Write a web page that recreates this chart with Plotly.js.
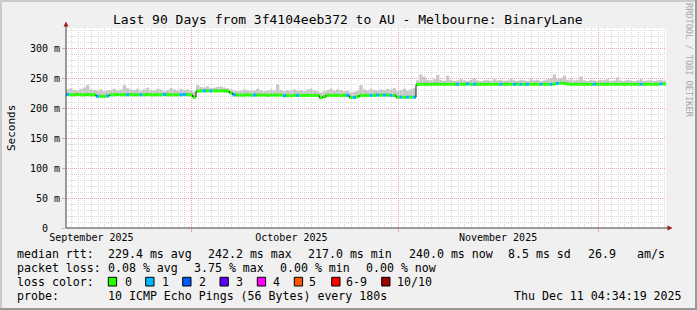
<!DOCTYPE html>
<html><head><meta charset="utf-8">
<script src="https://cdn.plot.ly/plotly-3.0.1.min.js"></script>
<style>html,body{margin:0;padding:0;background:#f0f0f0;overflow:hidden}</style>
</head><body><div id="chart" style="width:697px;height:310px"></div>
<script>
// ---- data (12-hour samples, 90 days) ----
const medianRtt = [
 222.5,222,222,222.5,222,222,222.5,222,222,
 219.5,219.5,219.5,220,
 222,222,222.5,222,222,222,222.5,222,222,222,222,222.5,222,222,222,222,222.5,222,222,222,222,222,222.5,222,222,
 218,
 228,228.5,228.5,228.5,228.5,228.5,228.5,228.5,228.5,228,
 225,222,
 221.5,221.5,221.5,222,221.5,221.5,221.5,221.5,221.5,221,221.5,221.5,221.5,221.5,
 220.5,220.5,220.5,221,
 221,221,221,221,221,221,221,217,219,221,221,221,221,221,221,221,217.5,217.5,219,221,221,221,221,221,221.5,221.5,
 221.5,221.5,221,221,
 218,218,218,218,218,218,
 239,239.5,239.5,239.5,239.5,239.5,239.5,239.5,239.5,239.5,
 239.5,239.5,239.5,239.5,239.5,240,239.5,239.5,239.5,239.5,
 239.5,239.5,239.5,239.5,239.5,239.5,239.5,239.5,239.5,239.5,
 239.5,239.5,239.5,239.5,239.5,239.5,239.5,239.5,239.5,239.5,
 239.5,240,241,241.5,241,240,239.5,239.5,239.5,239.5,
 239.5,239.5,239.5,239.5,239.5,239.5,239.5,239.5,239.5,239.5,
 239.5,239.5,239.5,239.5,239.5,239.5,239.5,239.5,239.5,239.5,
 239.5,239.5,239.5,240,240
];
const smokeTop = [
 231,233,230,229,232,234,238,231,230,
 229,231,228,230,
 230,232,229,231,238,233,231,230,232,229,231,234,230,229,232,231,228,230,233,231,229,232,230,231,229,
 227,
 238,235,234,236,233,234,235,236,234,233,
 231,229,
 228,229,231,230,228,229,232,230,228,229,231,229,239.5,230,
 228,230,229,231,
 229,230,228,231,232,229,228,226,228,230,232,229,231,230,228,229,226,227,229,238,231,229,232,230,229,231,
 230,232,231,233,
 228,230,232,229,231,233,
 246,256,252,247,246,248,255,247,245,254,
 247,245,246,248,246,245,247,249,246,245,
 246,247,245,248,246,247,245,246,248,246,
 245,247,246,245,248,246,247,245,246,248,
 249,256,248,250,254,247,248,246,247,252.5,
 246,245,247,246,245,247,246,248,245,246,
 251,246,245,247,246,245,246,248,245,246,
 247,245,246,247,245
];
const lossCount = [
 1,0,0,0,0,0,0,0,0,1,
 0,0,1,0,0,0,0,0,1,0,
 0,0,1,0,0,0,0,0,0,1,
 0,0,0,0,1,1,0,0,0,0,
 0,1,0,1,0,0,0,0,0,0,
 1,0,0,0,0,0,1,0,0,0,
 0,0,0,0,0,1,0,0,0,1,
 0,0,0,0,0,0,0,0,0,0,
 0,0,0,0,1,0,1,0,0,0,
 0,1,0,1,0,1,0,1,0,0,
 1,0,1,0,1,0,0,0,0,0,
 0,0,0,0,0,0,0,1,0,0,
 1,0,1,0,0,0,0,0,0,0,
 1,0,0,0,1,0,1,0,1,0,
 0,0,1,0,0,1,0,1,0,0,
 0,0,0,0,0,0,0,0,1,0,
 0,0,0,0,0,0,0,0,0,0,
 0,0,1,0,0,0,0,0,1,0
];
const monthStarts = ['2025-10-01','2025-11-01','2025-12-01'];
const monthLabelDates = ['2025-09-16','2025-10-16','2025-11-16'];
const monthLabels = ['September 2025','October 2025','November 2025'];
const yTickVals = [0,50,100,150,200,250,300];
const yTickText = ['0\u00a0\u00a0','50 m','100 m','150 m','200 m','250 m','300 m'];
const lossLegendLabels = ['0','1','2','3','4','5','6-9','10/10'];
const lossColors = ['#26ff00','#00b8ff','#0059ff','#5e00ff','#ff00ff','#ff5500','#ff0000','#a10000'];
const medianStats = ['229.4 ms avg','242.2 ms max','217.0 ms min','240.0 ms now','8.5 ms sd','26.9','am/s'];
const lossStats = ['0.08 % avg','3.75 % max','0.00 % min','0.00 % now'];
const probeText = '10 ICMP Echo Pings (56 Bytes) every 180s';
const stampText = 'Thu Dec 11 04:34:19 2025';
const titleText = 'Last 90 Days from 3f4104eeb372 to AU - Melbourne: BinaryLane';

// ---- layout helpers ----
const DAY = 86400000, STEP = DAY/2;
const startMs = Date.UTC(2025,8,12,4,34,19);
const endMs = startMs + 90*DAY;
const fmt = ms => new Date(ms).toISOString().replace('T',' ').slice(0,19);
const L=66, T=28, W=600, H=200;
const px = x => (x-L)/W;
const py = y => (T+H-y)/H;
const FONT = 'DejaVu Sans Mono';

const times = medianRtt.map((_,i)=>startMs+(i+0.5)*STEP);
const colorFor = n => n<=5 ? lossColors[n] : (n<10 ? lossColors[6] : lossColors[7]);

const smoke = {type:'bar', x:times, base:medianRtt, y:smokeTop.map((v,i)=>v-medianRtt[i]),
  width:STEP, marker:{color:'#c8c8c8', line:{width:0}}, hoverinfo:'skip', showlegend:false};
const band = 5;
const med = {type:'bar', x:times, base:medianRtt.map(v=>v-band/2), y:medianRtt.map(()=>band),
  width:STEP, marker:{color:lossCount.map(colorFor), line:{width:0}}, hoverinfo:'skip', showlegend:false};
const sx=[], sy=[];
for(let i=1;i<medianRtt.length;i++){
  if(Math.abs(medianRtt[i]-medianRtt[i-1])>=2){
    const t=startMs+i*STEP; sx.push(t,t,null); sy.push(medianRtt[i-1],medianRtt[i],null);
  }
}
const steps = {type:'scatter', mode:'lines', x:sx, y:sy, line:{color:'#202020', width:1}, hoverinfo:'skip', showlegend:false, connectgaps:false};
const dummy = {type:'scatter', mode:'markers', x:[times[0]], y:[0], xaxis:'x2', marker:{opacity:0}, hoverinfo:'skip', showlegend:false};

const ann = [];
const txt = (x,y,t,opts={}) => ann.push(Object.assign({xref:'paper',yref:'paper',x:px(x),y:py(y),text:t,showarrow:false,
  xanchor:'left',yanchor:'middle',borderpad:0,font:{family:FONT,size:11.6,color:'#000'}},opts));
// y label
txt(11,128,'Seconds',{xanchor:'center',textangle:-90,font:{family:FONT,size:11,color:'#000'}});
// watermark
txt(689,60,'RRDTOOL / TOBI OETIKER',{xanchor:'center',textangle:90,font:{family:FONT,size:8.6,color:'#a8a8a8'}});
// rows
const r1=254, r2=268.3, r3=281.7, r4=296;
txt(16,r1,'median rtt:');
[107.3,207.3,307.3,407.7,507.3,586.7,635.7].forEach((x,k)=>txt(x,r1,medianStats[k]));
txt(16,r2,'packet loss:');
[107.3,192.7,279,365].forEach((x,k)=>txt(x,r2,lossStats[k]));
txt(16,r3,'loss color:');
const boxX=[108.3,145.7,182.7,220,257.3,294.3,331.7,381.7];
const labX=[124.3,161.3,198.3,235,272.3,308.3,345,396];
const shapes=[];
lossLegendLabels.forEach((l,k)=>{
  txt(labX[k],r3,l);
  shapes.push({type:'rect',xref:'paper',yref:'paper',x0:px(boxX[k]),x1:px(boxX[k]+8.3),y0:py(286),y1:py(277.3),
    fillcolor:lossColors[k],line:{color:'#000',width:1}});
});
txt(16,r4,'probe:');
txt(107.3,r4,probeText);
txt(513.3,r4,stampText);

// axes + arrows
shapes.push({type:'line',xref:'paper',yref:'paper',x0:px(66),x1:px(66),y0:py(228),y1:py(26),line:{color:'#404040',width:1}});
shapes.push({type:'line',xref:'paper',yref:'paper',x0:px(66),x1:px(668),y0:py(228),y1:py(228),line:{color:'#404040',width:1}});
shapes.push({type:'path',xref:'paper',yref:'paper',path:`M${px(63.5)},${py(26.5)} L${px(66)},${py(21.5)} L${px(68.5)},${py(26.5)} Z`,fillcolor:'#a01818',line:{width:0}});
shapes.push({type:'path',xref:'paper',yref:'paper',path:`M${px(667.5)},${py(225.5)} L${px(672.5)},${py(228)} L${px(667.5)},${py(230.5)} Z`,fillcolor:'#a01818',line:{width:0}});
// frame
shapes.push({type:'rect',xref:'paper',yref:'paper',x0:px(0),x1:px(697),y0:py(2),y1:py(0),fillcolor:'#cbcbcb',line:{width:0}});
shapes.push({type:'rect',xref:'paper',yref:'paper',x0:px(0),x1:px(2),y0:py(310),y1:py(0),fillcolor:'#cbcbcb',line:{width:0}});
shapes.push({type:'rect',xref:'paper',yref:'paper',x0:px(0),x1:px(697),y0:py(310),y1:py(308),fillcolor:'#999999',line:{width:0}});
shapes.push({type:'rect',xref:'paper',yref:'paper',x0:px(695),x1:px(697),y0:py(310),y1:py(0),fillcolor:'#999999',line:{width:0}});

const gridRed = '#e7a3a3', gridGrey = '#d8d8d8', dash='1px,1px';
const layout = {
  width:697, height:310, margin:{l:L,r:697-L-W,t:T,b:310-T-H,pad:0},
  paper_bgcolor:'#f0f0f0', plot_bgcolor:'#ffffff', barmode:'overlay', showlegend:false,
  title:{text:titleText, font:{family:FONT,size:13,color:'#000'}, xref:'container', yref:'container', x:347.8/697, xanchor:'center', y:1-19/310, yanchor:'middle'},
  xaxis:{type:'date', range:[fmt(startMs),fmt(endMs)], tickmode:'array', tickvals:monthStarts, ticktext:monthStarts.map(()=>''),
    showgrid:true, gridcolor:gridRed, griddash:dash, gridwidth:1, ticks:'outside', ticklen:3, tickcolor:gridRed,
    showline:false, zeroline:false,
    minor:{tickmode:'linear', tick0:'2025-09-13', dtick:DAY, showgrid:true, gridcolor:gridGrey, griddash:dash, ticks:''}},
  xaxis2:{type:'date', overlaying:'x', anchor:'y', side:'bottom', range:[fmt(startMs),fmt(endMs)], tickmode:'array',
    tickvals:monthLabelDates, ticktext:monthLabels, showgrid:false, showline:false, zeroline:false, ticks:'',
    ticklabelstandoff:2, tickfont:{family:FONT,size:10,color:'#000'}},
  yaxis:{range:[0,H/0.6], tickmode:'array', tickvals:yTickVals, ticktext:yTickText, showgrid:true, gridcolor:gridRed, griddash:dash,
    ticks:'outside', ticklen:3, tickcolor:gridRed, showline:false, zeroline:false, tickfont:{family:FONT,size:10,color:'#000'},
    minor:{tickmode:'linear', tick0:0, dtick:10, showgrid:true, gridcolor:gridGrey, griddash:dash, ticks:''}},
  annotations:ann, shapes:shapes
};
Plotly.newPlot('chart',[smoke,med,steps,dummy],layout,{displayModeBar:false,staticPlot:true});
</script></body></html>
